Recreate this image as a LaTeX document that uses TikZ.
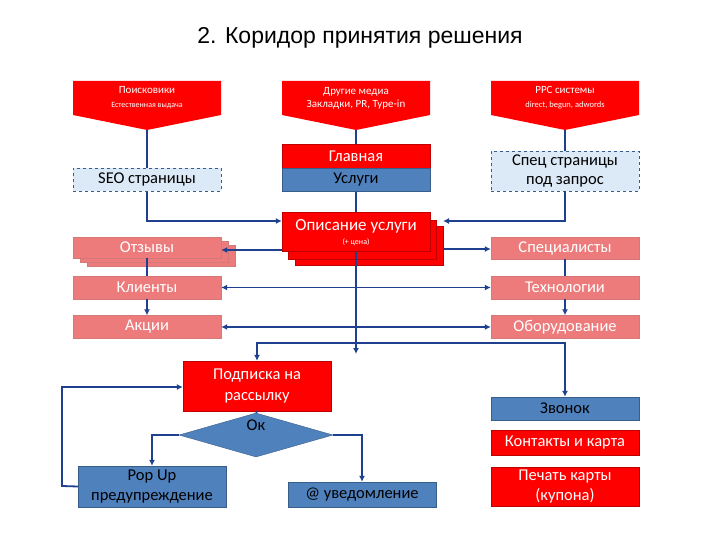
\documentclass[tikz,border=0pt]{standalone}
\usepackage{fontspec}
\setmainfont{Carlito}
\newfontfamily\arialf{Liberation Sans}
\usetikzlibrary{shapes.geometric,arrows.meta}
\definecolor{rd}{HTML}{FF0000}
\definecolor{rdb}{HTML}{C00000}
\definecolor{bl}{HTML}{4F81BD}
\definecolor{blb}{HTML}{385D8A}
\definecolor{pk}{HTML}{EE7B7B}
\definecolor{pkb}{HTML}{C04040}
\definecolor{lb}{HTML}{DCE9F7}
\definecolor{ln}{HTML}{1F3F8F}
\begin{document}
\begin{tikzpicture}[x=1pt,y=-1pt,
  bx/.style={draw,inner sep=0pt,minimum width=148pt,align=center,font=\fontsize{16.5}{19}\selectfont},
  red/.style={bx,fill=rd,draw=rdb,text=white},
  blue/.style={bx,fill=bl,draw=blb,text=black},
  pink/.style={bx,fill=pk,draw=pkb!70,text=white},
  seo/.style={bx,fill=lb,draw=blb,dashed,text=black},
  con/.style={draw=ln,line width=1.8pt},
  arr/.style={con,-{Latex[length=6pt,width=6pt]}},
  dar/.style={con,{Latex[length=6pt,width=6pt]}-{Latex[length=6pt,width=6pt]}}]
\useasboundingbox (0,0) rectangle (720,540);
\node[font=\arialf\fontsize{23}{25}\selectfont] (title) at (360,38) {2. Коридор принятия решения};
% pentagons
\foreach \n/\xa/\xb/\t in {pa/73/221/{Поисковики\\[1pt]{\fontsize{8}{9}\selectfont Естественная выдача}},pb/282/430/{Другие медиа\\Закладки, PR, Type-in},pc/491/639/{PPC системы\\[1pt]{\fontsize{8.5}{9}\selectfont direct, begun, adwords}}}{
  \fill[rd] (\xa,81) -- (\xb,81) -- (\xb,115) -- ({(\xa+\xb)/2},130) -- (\xa,115) -- cycle;
  \node[text=white,align=center,font=\fontsize{11}{13}\selectfont] (\n) at ({(\xa+\xb)/2},98) {\t};
  \coordinate (\n t) at ({(\xa+\xb)/2},130);
}
\node[seo,minimum height=23pt] (seo) at (147,180) {SEO страницы};
\node[red,minimum height=24pt] (glav) at (356,156) {Главная};
\node[blue,minimum height=23pt] (usl) at (356,180) {Услуги};
\node[seo,minimum height=40pt,font=\fontsize{16.5}{19}\selectfont] (spec) at (565,171) {Спец страницы\\под запрос};
\draw[con] (pat) -- (seo.north);
\draw[con] (pbt) -- (glav.north);
\draw[con] (pct) -- (spec.north);
% opisanie stack
\fill[rd,draw=rdb] (295,226) rectangle (443,265);
\fill[rd,draw=rdb] (288,220) rectangle (436,259);
\node[red,minimum height=39pt] (opis) at (356,232) {};
\node[text=white,font=\fontsize{17}{18}\selectfont] (opt1) at (356,226) {Описание услуги};
\node[text=white,font=\fontsize{8}{9}\selectfont] (opt2) at (356,242) {(+ цена)};
\draw[arr] (seo.south) |- (opis.west|-0,221);
\draw[arr] (spec.south) |- (443,221);
\draw[con] (usl.south) -- (opis.north);
% left / right
\fill[pk,draw=pkb!70] (87,245) rectangle (235,266);
\fill[pk,draw=pkb!70] (80,241) rectangle (228,262);
\node[pink,minimum height=21pt] (otz) at (147,247.5) {Отзывы};
\node[pink,minimum height=23pt] (kli) at (147,287.5) {Клиенты};
\node[pink,minimum height=23pt] (akc) at (147,327) {Акции};
\node[pink,minimum height=22pt] (spc) at (565,248) {Специалисты};
\node[pink,minimum height=23pt] (tex) at (565,287.5) {Технологии};
\node[pink,minimum height=23pt] (obo) at (565,327) {Оборудование};
\draw[arr] (opis.west|-0,250) -- (otz.east|-0,250);
\draw[arr] (443,249) -- (spc.west|-0,249);
\draw[con] (otz.south) -- (kli.north);
\draw[arr] (kli.south) -- (akc.north);
\draw[con] (spc.south) -- (tex.north);
\draw[arr] (tex.south) -- (obo.north);
\draw[dar] (kli.east) -- (tex.west);
\draw[dar] (akc.east) -- (obo.west);
% bottom
\node[red,minimum height=50pt,font=\fontsize{16.5}{21}\selectfont] (pod) at (257,386) {Подписка на\\рассылку};
\node[diamond,draw=blb,fill=bl,minimum width=154pt,minimum height=44pt,inner sep=0pt,aspect=3.5] (ok) at (256,435) {};
\node[font=\fontsize{16.5}{18}\selectfont] (okt) at (256,425) {Ок};
\node[blue,minimum height=41pt,font=\fontsize{16.5}{20}\selectfont] (pop) at (152,486.5) {Pop Up\\предупреждение};
\node[blue,minimum height=25pt] (uve) at (362,494.5) {@ уведомление};
\node[blue,minimum height=23pt] (zvo) at (565,408.5) {Звонок};
\node[red,minimum height=25pt] (kon) at (565,442.5) {Контакты и карта};
\node[red,minimum height=39pt,font=\fontsize{16.5}{20}\selectfont] (pec) at (565,486.5) {Печать карты\\(купона)};
\coordinate (hub) at (356,343);
\draw[con] (opis.south) -- (hub);
\draw[arr] (hub) -- (356,354);
\draw[arr] (hub) -| (pod.north);
\draw[arr] (hub) -| (zvo.north);
\draw[con] (pod.south) -- (ok.north);
\draw[arr] (ok.west) -| (pop.north);
\draw[arr] (ok.east) -| (uve.north);
\draw[arr] (pop.west) -- (62,486) |- (pod.west|-0,387);
\end{tikzpicture}
\end{document}
